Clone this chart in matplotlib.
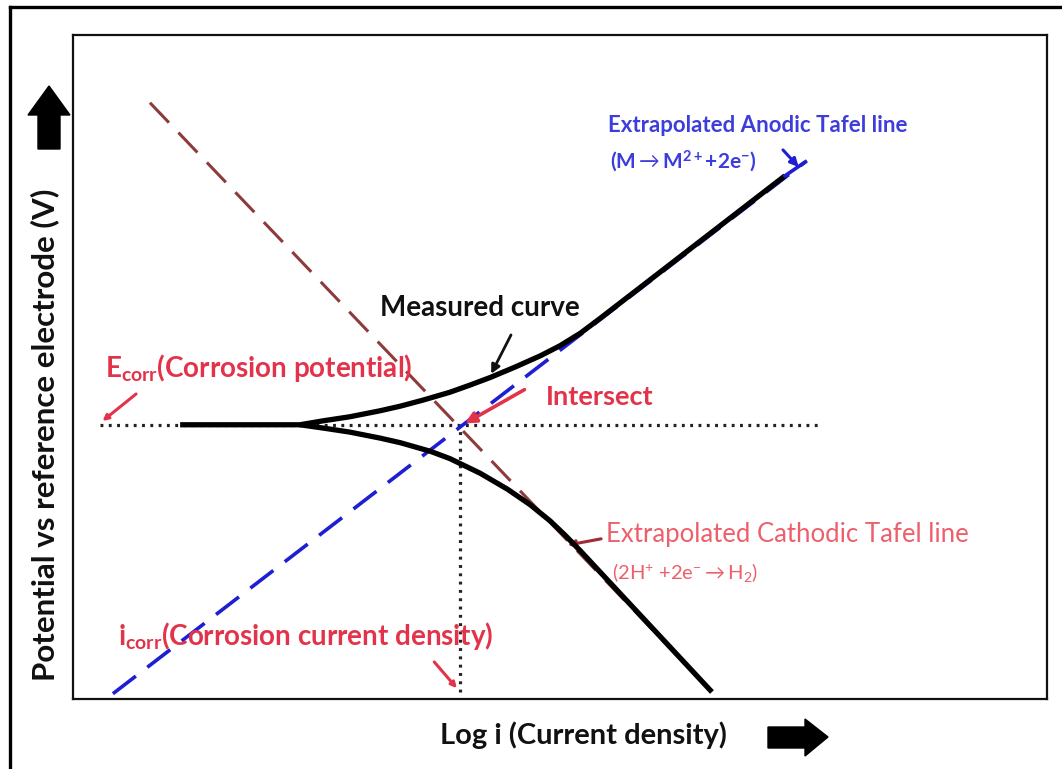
import matplotlib
matplotlib.use("Agg")
import matplotlib.pyplot as plt
from matplotlib.lines import Line2D
from matplotlib.patches import Polygon

plt.rcParams["mathtext.fontset"] = "custom"
plt.rcParams["mathtext.rm"] = "Lato"
plt.rcParams["mathtext.bf"] = "Lato:bold"
plt.rcParams["mathtext.it"] = "Lato:italic"

# ---- data (log i on x, potential on y, arbitrary units) ----
E_CORR = 4.13
I_CORR = 3.97

ecorr_line_x = [0.28, 7.65]
icorr_line_y = [0.10, E_CORR]

anodic_tafel_x = [0.41, 7.52]
anodic_tafel_y = [0.08, 8.09]

cathodic_tafel_x = [0.79, 6.56]
cathodic_tafel_y = [8.98, 0.105]

measured_anodic_x = [1.10, 2.33, 2.57, 2.84, 3.15, 3.36, 3.59, 3.87, 4.08, 4.28,
                     4.54, 4.80, 5.00, 5.21, 5.41, 7.31]
measured_anodic_y = [4.13, 4.13, 4.19, 4.25, 4.34, 4.41, 4.50, 4.62, 4.73, 4.84,
                     5.00, 5.17, 5.32, 5.51, 5.73, 7.88]

measured_cathodic_x = [2.33, 2.57, 2.84, 3.15, 3.36, 3.67, 3.87, 4.18, 4.46, 4.69,
                       4.90, 5.05, 5.21, 6.56]
measured_cathodic_y = [4.13, 4.08, 4.02, 3.93, 3.86, 3.73, 3.62, 3.40, 3.16, 2.93,
                       2.68, 2.47, 2.23, 0.105]

W, H = 1062, 769
fig = plt.figure(figsize=(W / 100, H / 100), dpi=100)
ax = fig.add_axes([73 / W, 1 - 699 / H, (1047 - 73) / W, (699 - 35) / H])
ax.set_xlim(0, 10)
ax.set_ylim(0, 10)
ax.set_xticks([])
ax.set_yticks([])
for s in ax.spines.values():
    s.set_linewidth(1.6)
    s.set_color("#111111")

FONT = ["Lato", "DejaVu Sans"]
BLUE = "#1e1ed2"
BROWN = "#8e3b3b"
RED = "#e3334a"
RED_LIGHT = "#ee5f6c"
BLUE_TXT = "#3d3ddc"

# reference lines at E_corr and i_corr
ax.plot(ecorr_line_x, [E_CORR, E_CORR], color="#222222", lw=2.3,
        linestyle=(0, (0.9, 1.7)), zorder=2)
ax.plot([I_CORR, I_CORR], icorr_line_y, color="#222222", lw=2.3,
        linestyle=(0, (0.9, 1.7)), zorder=2)

# extrapolated Tafel lines
ax.plot(anodic_tafel_x, anodic_tafel_y, color=BLUE, lw=2.6,
        linestyle=(0, (8, 4)), zorder=3)
ax.plot(cathodic_tafel_x, cathodic_tafel_y, color=BROWN, lw=2.2,
        linestyle=(0, (9, 4.5)), zorder=3)

# measured polarisation curve
ax.plot(measured_anodic_x, measured_anodic_y, color="black", lw=3.8,
        solid_capstyle="butt", solid_joinstyle="round", zorder=4)
ax.plot(measured_cathodic_x, measured_cathodic_y, color="black", lw=3.8,
        solid_capstyle="butt", solid_joinstyle="round", zorder=4)
# blue tip of the anodic extrapolation beyond the curve end
ax.plot([measured_anodic_x[-1], anodic_tafel_x[1]],
        [measured_anodic_y[-1], anodic_tafel_y[1]], color=BLUE, lw=2.6, zorder=5)

# ---- annotations ----
ax.text(5.49, 8.64, "Extrapolated Anodic Tafel line", color=BLUE_TXT,
        fontsize=16, fontweight="bold", family=FONT, va="center", ha="left")
ax.text(5.51, 8.10, r"(M$\rightarrow$M$^{\mathbf{2+}}$+2e$^{\mathbf{-}}$)", color=BLUE_TXT,
        fontsize=15, fontweight="bold", family=FONT, va="center", ha="left")
ax.annotate("", xy=(7.47, 7.98), xytext=(7.27, 8.30),
            arrowprops=dict(arrowstyle="-|>", color=BLUE, lw=2.2,
                            mutation_scale=12))

ax.text(3.15, 5.89, "Measured curve", color="#111111", fontsize=20,
        fontweight="bold", family=FONT, va="center", ha="left")
ax.annotate("", xy=(4.28, 4.86), xytext=(4.51, 5.52),
            arrowprops=dict(arrowstyle="-|>", color="#111111", lw=2.0,
                            mutation_scale=13))

ax.text(0.33, 4.98, r"E$_{\mathbf{corr}}$(Corrosion potential)",
        color=RED, fontsize=20, fontweight="bold", family=FONT,
        va="center", ha="left")
ax.annotate("", xy=(0.28, 4.16), xytext=(0.67, 4.62),
            arrowprops=dict(arrowstyle="-|>", color=RED, lw=2.2,
                            mutation_scale=8))

ax.text(4.85, 4.55, "Intersect", color=RED, fontsize=19.5,
        fontweight="bold", family=FONT, va="center", ha="left")
ax.annotate("", xy=(I_CORR + 0.03, E_CORR), xytext=(4.66, 4.68),
            arrowprops=dict(arrowstyle="-|>", color=RED, lw=2.6,
                            mutation_scale=16), zorder=6)

ax.text(5.47, 2.47, "Extrapolated Cathodic Tafel line", color=RED_LIGHT,
        fontsize=18.5, family=FONT, va="center", ha="left")
ax.text(5.53, 1.91, r"(2H$^{+}$ +2e$^{-}$$\rightarrow$H$_{2}$)", color=RED_LIGHT,
        fontsize=14.5, family=FONT, va="center", ha="left")
ax.annotate("", xy=(5.05, 2.31), xytext=(5.45, 2.42),
            arrowprops=dict(arrowstyle="-|>", color="#a02a35", lw=2.2,
                            mutation_scale=10))

ax.text(0.46, 0.95, r"i$_{\mathbf{corr}}$(Corrosion current density)",
        color=RED, fontsize=20, fontweight="bold", family=FONT,
        va="center", ha="left")
ax.annotate("", xy=(3.96, 0.13), xytext=(3.69, 0.59),
            arrowprops=dict(arrowstyle="-|>", color=RED, lw=2.2,
                            mutation_scale=8))

# ---- axis titles ----
fig.text(440 / W, 1 - 735 / H, "Log i (Current density)", color="#111111",
         fontsize=21, fontweight="bold", family=FONT, va="center", ha="left")
fig.text(45 / W, 1 - 435 / H, "Potential vs reference electrode (V)",
         color="#111111", fontsize=22.5, fontweight="bold", family=FONT,
         va="center", ha="center", rotation=90)


def px(points):
    return [(x / W, 1 - y / H) for x, y in points]


# direction arrows beside the axis titles
up_arrow = [(49, 86), (70, 115), (60, 115), (60, 149), (38, 149), (38, 115), (28, 115)]
right_arrow = [(768, 727), (805, 727), (805, 719), (828, 737), (805, 756), (805, 748), (768, 748)]
for shape in (up_arrow, right_arrow):
    fig.add_artist(Polygon(px(shape), closed=True, transform=fig.transFigure,
                           facecolor="black", edgecolor="black", lw=1))

# outer frame
fig.add_artist(Line2D([10 / W, 10 / W], [0, 1 - 7 / H], color="black", lw=2.4,
                      transform=fig.transFigure))
fig.add_artist(Line2D([10 / W, 1], [1 - 7 / H, 1 - 7 / H], color="black", lw=2.4,
                      transform=fig.transFigure))

fig.savefig("out.png", dpi=100, facecolor="white")
